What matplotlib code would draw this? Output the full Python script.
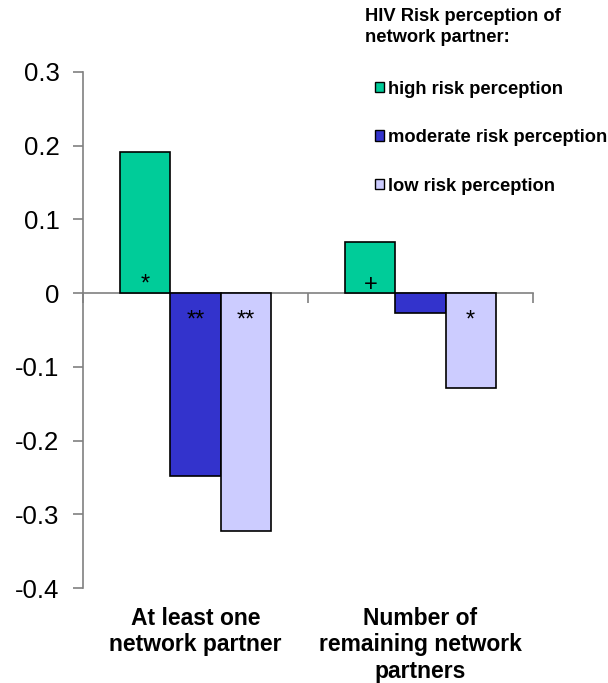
import matplotlib.pyplot as plt
from matplotlib.patches import Patch
import numpy as np

plt.rcParams['font.family'] = ['Liberation Sans', 'DejaVu Sans']

# dane
categories = ['At least one\nnetwork partner', 'Number of\nremaining network\npartners']
series = ['high risk perception', 'moderate risk perception', 'low risk perception']
high = [0.191, 0.069]
moderate = [-0.248, -0.027]
low = [-0.323, -0.129]
marks_high = ['*', '+']
marks_moderate = ['**', '']
marks_low = ['**', '*']
colors = ['#00CC99', '#3333CC', '#CCCCFF']

fig = plt.figure(figsize=(6.08, 6.83), dpi=100)
ax = fig.add_axes([0.1365, 0.139, 0.74, 0.7556])

x = np.arange(len(categories))
w = 0.223
values = [high, moderate, low]
marks = [marks_high, marks_moderate, marks_low]
for i, (vals, col, mk) in enumerate(zip(values, colors, marks)):
    pos = x + (i - 1) * w
    ax.bar(pos, vals, width=w, color=col, edgecolor='black', linewidth=1.2, zorder=3)
    # gwiazdki istotnosci
    for p, v, m in zip(pos, vals, mk):
        if not m:
            continue
        y_txt = 0.0035 if v > 0 else -0.0455
        ax.text(p, y_txt, m, ha='center', va='baseline', fontsize=17, zorder=4)

ax.set_xlim(-0.5, 1.5)
ax.set_ylim(-0.4, 0.3)
ax.set_yticks(np.arange(-0.4, 0.31, 0.1))
ax.set_yticklabels(['-0.4', '-0.3', '-0.2', '-0.1', '0', '0.1', '0.2', '0.3'], fontsize=18.5)

# os x przechodzi przez zero
ax.spines['bottom'].set_position(('data', 0))
ax.spines['top'].set_visible(False)
ax.spines['right'].set_visible(False)
for s in ['left', 'bottom']:
    ax.spines[s].set_color('#808080')
    ax.spines[s].set_linewidth(1.2)
ax.set_xticks([-0.5, 0.5, 1.5])
ax.set_xticklabels([])
ax.tick_params(axis='x', direction='out', length=7, color='#808080', width=1.2, top=False)
ax.tick_params(axis='y', direction='out', length=7, color='#808080', width=1.2, pad=10)

for xi, lab in zip(x, categories):
    ax.text(xi, -0.426, lab, ha='center', va='top', fontsize=16.5, fontweight='bold',
            linespacing=1.18, transform=ax.transData, clip_on=False)

# legenda
fig.text(0.600, 0.988, 'HIV Risk perception of\nnetwork partner:', ha='left', va='top',
         fontsize=13.2, fontweight='bold', linespacing=1.32)
handles = [Patch(facecolor=c, edgecolor='black', linewidth=1) for c in colors]
leg = fig.legend(handles, series, loc='upper left', bbox_to_anchor=(0.617, 0.882),
                 frameon=False, prop={'weight': 'bold', 'size': 13.2}, labelspacing=1.72,
                 handlelength=0.5, handleheight=0.5, handletextpad=0.22,
                 borderpad=0, borderaxespad=0)

plt.savefig('out.png', dpi=100)
